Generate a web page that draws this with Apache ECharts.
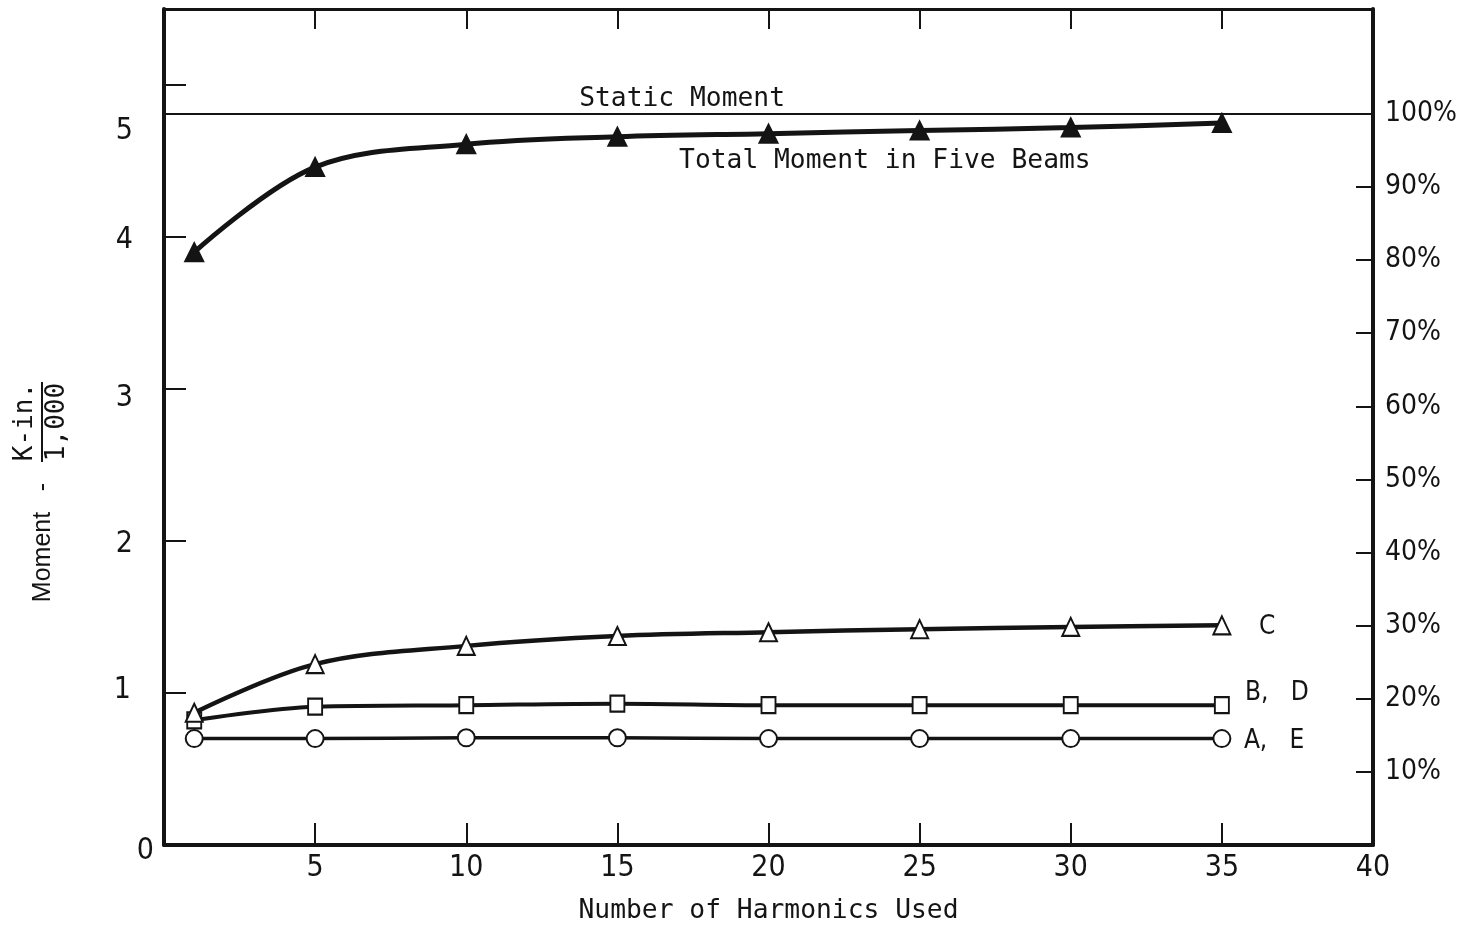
<!DOCTYPE html>
<html>
<head>
<meta charset="utf-8">
<title>Moment vs. Number of Harmonics</title>
<script src="https://cdn.jsdelivr.net/npm/echarts@6/dist/echarts.min.js"></script>
<style>
  html, body { margin: 0; padding: 0; background: #fff; }
  #chart { width: 1459px; height: 931px; }
</style>
</head>
<body>
<div id="chart"></div>
<script>
// Number of harmonics used in the series solution
const harmonics = [1, 5, 10, 15, 20, 25, 30, 35];

// Moments (K-in. / 1,000)
const totalMoment = [3.90, 4.46, 4.61, 4.66, 4.68, 4.70, 4.72, 4.75];
const beamC       = [0.87, 1.19, 1.31, 1.375, 1.40, 1.42, 1.435, 1.445];
const beamsBD     = [0.82, 0.91, 0.92, 0.93, 0.92, 0.92, 0.92, 0.92];
const beamsAE     = [0.70, 0.70, 0.705, 0.705, 0.70, 0.70, 0.70, 0.70];
const staticMoment = 4.81;

// Axis ranges and tick values
const xTicks = { min: 0, max: 40, step: 5 };
const yLeft  = { min: 0, max: 5.5, step: 1 };
const yRightMax = 100 * yLeft.max / staticMoment;   // percent of static moment
const percentTicks  = [10, 20, 30, 40, 50, 60, 70, 80, 90];
const percentLabels = [10, 20, 30, 40, 50, 60, 70, 80, 90, 100];

// Series names (also drawn as end labels)
const names = {
  total: 'Total Moment in Five Beams',
  c: 'C',
  bd: 'B,   D',
  ae: 'A,   E',
  stat: 'Static Moment'
};

const INK = '#141414';
const NARROW = '"Liberation Sans Narrow", "DejaVu Sans Condensed", "Liberation Sans", sans-serif';
const MONO = '"DejaVu Sans Mono", "Liberation Mono", monospace';
const SANS = '"Liberation Sans", "DejaVu Sans", sans-serif';

const pair = (ys) => harmonics.map((h, i) => [h, ys[i]]);

const tickNum = { fontFamily: NARROW, fontSize: 30, color: INK };

const chart = echarts.init(document.getElementById('chart'), null, { renderer: 'canvas' });

const lineSeries = (name, ys, symbol, size, filled, width, endLabel) => ({
  name,
  type: 'line',
  xAxisIndex: 0,
  yAxisIndex: 0,
  data: pair(ys),
  smooth: 0.35,
  symbol,
  symbolSize: size,
  showAllSymbol: true,
  lineStyle: { color: INK, width },
  itemStyle: {
    color: filled ? INK : '#fff',
    borderColor: INK,
    borderWidth: 2
  },
  endLabel: endLabel ? {
    show: true,
    formatter: name,
    distance: endLabel.distance,
    offset: [0, endLabel.dy],
    fontFamily: NARROW,
    fontSize: 26,
    color: INK
  } : { show: false },
  emphasis: { disabled: true },
  z: 3
});

chart.setOption({
  animation: false,
  backgroundColor: '#fff',
  grid: {
    left: 164, right: 86, top: 9, bottom: 86,
    containLabel: false,
    outerBoundsMode: 'none'
  },
  xAxis: [
    {
      type: 'value',
      position: 'bottom',
      min: xTicks.min, max: xTicks.max, interval: xTicks.step,
      name: 'Number of Harmonics Used',
      nameLocation: 'middle',
      nameGap: 53,
      nameTextStyle: { fontFamily: MONO, fontSize: 26.3, color: INK },
      axisLine: { show: true, onZero: false, lineStyle: { color: INK, width: 4 } },
      axisTick: { show: true, inside: true, length: 22, lineStyle: { color: INK, width: 2 } },
      axisLabel: {
        ...tickNum,
        margin: 8,
        formatter: (v) => (v === 0 ? '' : String(v))
      },
      splitLine: { show: false }
    },
    {
      type: 'value',
      position: 'top',
      min: xTicks.min, max: xTicks.max, interval: xTicks.step,
      axisLine: { show: true, onZero: false, lineStyle: { color: INK, width: 3 } },
      axisTick: { show: true, inside: true, length: 20, lineStyle: { color: INK, width: 2 } },
      axisLabel: { show: false },
      splitLine: { show: false }
    }
  ],
  yAxis: [
    {
      type: 'value',
      position: 'left',
      min: yLeft.min, max: yLeft.max, interval: yLeft.step,
      axisLine: { show: true, onZero: false, lineStyle: { color: INK, width: 4 } },
      axisTick: { show: true, inside: true, length: 22, lineStyle: { color: INK, width: 2 } },
      axisLabel: {
        ...tickNum,
        margin: 10,
        showMaxLabel: false,
        formatter: (v) => {
          if (v === 0) return '{z|0}';
          if (v === 5) return '{f|5}';
          if (v === 3) return '{t|3}';
          if (v === 1) return '{o|1}';
          return v < 5 ? '{n|' + v + '}' : '';
        },
        rich: {
          z: { ...tickNum, padding: [12, 0, 0, 0] },
          f: { ...tickNum, padding: [92, 21, 0, 0] },
          t: { ...tickNum, padding: [18, 21, 0, 0] },
          o: { ...tickNum, padding: [0, 23, 6, 0] },
          n: { ...tickNum, padding: [6, 21, 0, 0] }
        }
      },
      splitLine: { show: false }
    },
    {
      type: 'value',
      position: 'right',
      min: 0, max: yRightMax, interval: 10,
      axisLine: { show: true, onZero: false, lineStyle: { color: INK, width: 4 } },
      axisTick: {
        show: true, inside: true, length: 17,
        customValues: percentTicks,
        lineStyle: { color: INK, width: 2 }
      },
      axisLabel: {
        ...tickNum,
        fontSize: 28,
        margin: 12,
        customValues: percentLabels,
        formatter: (v) => v + '%'
      },
      splitLine: { show: false }
    }
  ],
  series: [
    {
      name: names.stat,
      type: 'line',
      data: [[xTicks.min, staticMoment], [xTicks.max, staticMoment]],
      symbol: 'none',
      lineStyle: { color: INK, width: 2 },
      emphasis: { disabled: true },
      markPoint: {
        symbol: 'circle',
        symbolSize: 0,
        silent: true,
        label: { show: true, position: 'inside', fontFamily: MONO, fontSize: 26.3, color: INK },
        data: [
          { coord: [17.14, 4.91], value: names.stat, label: { formatter: names.stat } },
          { coord: [23.85, 4.50], value: names.total, label: { formatter: names.total } }
        ]
      },
      z: 2
    },
    lineSeries(names.ae, beamsAE, 'circle', 17, false, 3.5, { distance: 22, dy: 3 }),
    lineSeries(names.bd, beamsBD, 'rect', [14, 16], false, 4, { distance: 23, dy: -12 }),
    lineSeries(names.c, beamC, 'triangle', [17, 18], false, 4.5, { distance: 37, dy: 2 }),
    lineSeries(names.total, totalMoment, 'triangle', [18, 18], true, 5, null)
  ],
  graphic: [
    {
      type: 'text', x: 43, y: 557, rotation: Math.PI / 2,
      style: { text: 'Moment', fontFamily: SANS, fontSize: 25, fill: INK, align: 'center', verticalAlign: 'middle' }
    },
    {
      type: 'text', x: 43, y: 487, rotation: Math.PI / 2,
      style: { text: '-', fontFamily: SANS, fontSize: 25, fill: INK, align: 'center', verticalAlign: 'middle' }
    },
    {
      type: 'text', x: 25, y: 422, rotation: Math.PI / 2,
      style: { text: 'K-in.', fontFamily: MONO, fontSize: 26, fill: INK, align: 'center', verticalAlign: 'middle' }
    },
    {
      type: 'line',
      shape: { x1: 42, y1: 382, x2: 42, y2: 462 },
      style: { stroke: INK, lineWidth: 2 }
    },
    {
      type: 'text', x: 57, y: 422, rotation: Math.PI / 2,
      style: { text: '1,000', fontFamily: MONO, fontSize: 26, fill: INK, align: 'center', verticalAlign: 'middle' }
    }
  ]
});
</script>
</body>
</html>
